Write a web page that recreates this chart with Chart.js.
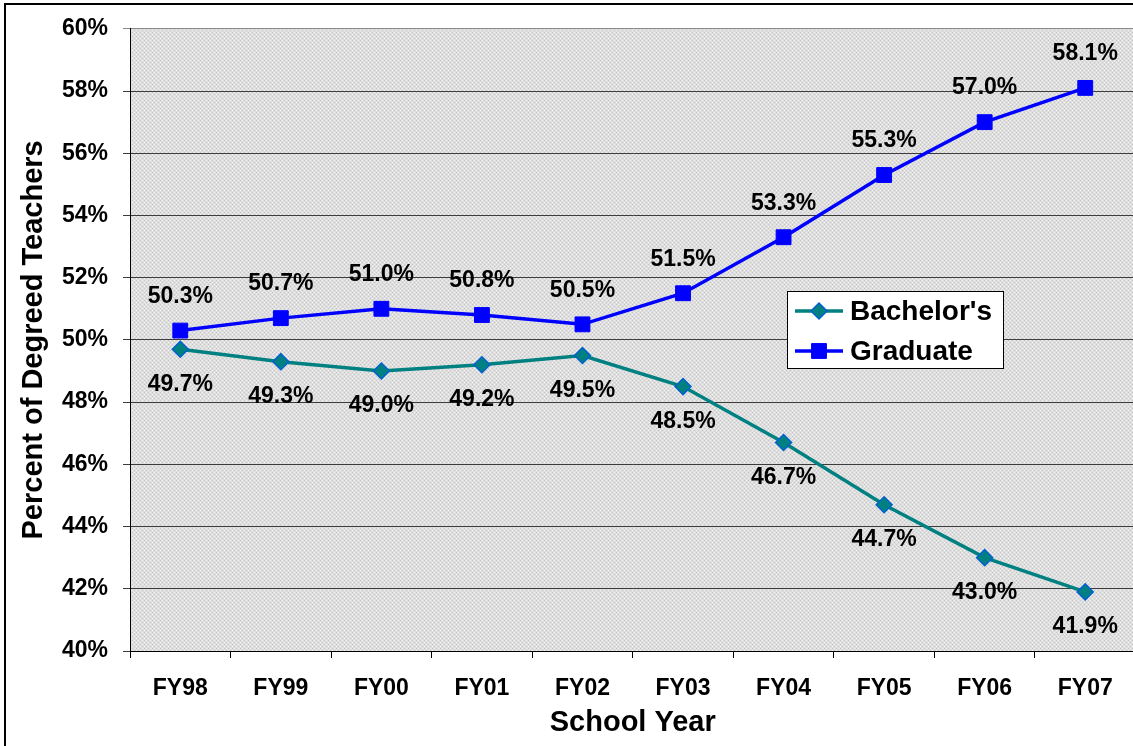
<!DOCTYPE html>
<html>
<head>
<meta charset="utf-8">
<script src="https://cdn.jsdelivr.net/npm/chart.js@4/dist/chart.umd.min.js"></script>
<style>
  html, body { margin: 0; padding: 0; overflow: hidden; background: #fff; }
  canvas { display: block; }
</style>
</head>
<body>
<canvas id="chart" width="1147" height="746"></canvas>
<script>
// School years on the horizontal axis
const schoolYears = ['FY98', 'FY99', 'FY00', 'FY01', 'FY02', 'FY03', 'FY04', 'FY05', 'FY06', 'FY07'];
// Share of degreed teachers holding a bachelor's degree (%)
const bachelorsShare = [49.7, 49.3, 49.0, 49.2, 49.5, 48.5, 46.7, 44.7, 43.0, 41.9];
// Share of degreed teachers holding a graduate degree (%)
const graduateShare = [50.3, 50.7, 51.0, 50.8, 50.5, 51.5, 53.3, 55.3, 57.0, 58.1];
// Vertical axis ticks (%)
const percentTicks = [40, 42, 44, 46, 48, 50, 52, 54, 56, 58, 60];

const FONT = '"Liberation Sans", Arial, sans-serif';
const TEAL = '#008080';
const BLUE = '#0000ff';

// Fine dotted grey fill for the plot area
function makeDotPattern(ctx) {
  const p = document.createElement('canvas');
  p.width = 4; p.height = 4;
  const g = p.getContext('2d');
  g.fillStyle = '#dedede';
  g.fillRect(0, 0, 4, 4);
  g.fillStyle = '#c6c6c6';
  g.fillRect(0, 0, 1, 1); g.fillRect(2, 2, 1, 1);
  g.fillStyle = '#f2f2f2';
  g.fillRect(2, 0, 1, 1); g.fillRect(0, 2, 1, 1);
  return ctx.createPattern(p, 'repeat');
}

const plotBackground = {
  id: 'plotBackground',
  beforeDraw(chart) {
    const { ctx, chartArea: a } = chart;
    ctx.save();
    ctx.fillStyle = makeDotPattern(ctx);
    ctx.fillRect(a.left, a.top, a.right - a.left, a.bottom - a.top);
    ctx.restore();
  },
  afterDraw(chart) {
    // outer frame of the figure
    const { ctx } = chart;
    ctx.save();
    ctx.strokeStyle = '#000';
    ctx.lineWidth = 2;
    ctx.strokeRect(5, 4, 1400, 1000);
    ctx.restore();
  }
};

// Value labels: graduate above the point, bachelor's below
const valueLabels = {
  id: 'valueLabels',
  afterDatasetsDraw(chart) {
    const { ctx } = chart;
    ctx.save();
    ctx.font = 'bold 23px ' + FONT;
    ctx.fillStyle = '#000';
    ctx.textAlign = 'center';
    ctx.textBaseline = 'middle';
    chart.data.datasets.forEach((ds, i) => {
      const meta = chart.getDatasetMeta(i);
      const dy = ds.labelSide === 'above' ? -34 : 35;
      meta.data.forEach((pt, j) => {
        ctx.fillText(ds.data[j].toFixed(1) + '%', pt.x, pt.y + dy);
      });
    });
    ctx.restore();
  }
};

// Boxed legend inside the plot area
const boxedLegend = {
  id: 'boxedLegend',
  afterDraw(chart) {
    const { ctx } = chart;
    const box = { x: 787, y: 291, w: 216, h: 77 };
    ctx.save();
    ctx.fillStyle = '#fff';
    ctx.fillRect(box.x, box.y, box.w, box.h);
    ctx.strokeStyle = '#000';
    ctx.lineWidth = 1;
    ctx.strokeRect(box.x + 0.5, box.y + 0.5, box.w, box.h);
    const rows = [
      { ds: chart.data.datasets[0], y: 311 },
      { ds: chart.data.datasets[1], y: 351 }
    ];
    rows.forEach(r => {
      ctx.strokeStyle = r.ds.borderColor;
      ctx.lineWidth = r.ds.borderWidth;
      ctx.beginPath();
      ctx.moveTo(795, r.y); ctx.lineTo(843, r.y);
      ctx.stroke();
      ctx.fillStyle = r.ds.pointBackgroundColor;
      ctx.strokeStyle = r.ds.pointBorderColor;
      ctx.lineWidth = r.ds.pointBorderWidth;
      Chart.helpers.drawPoint(ctx, {
        pointStyle: r.ds.pointStyle,
        radius: r.ds.pointRadius,
        borderWidth: r.ds.pointBorderWidth,
        rotation: 0
      }, 819, r.y);
      ctx.fillStyle = '#000';
      ctx.font = 'bold 28px ' + FONT;
      ctx.textAlign = 'left';
      ctx.textBaseline = 'middle';
      ctx.fillText(r.ds.label, 850, r.y + 1);
    });
    ctx.restore();
  }
};

new Chart(document.getElementById('chart'), {
  type: 'line',
  data: {
    labels: schoolYears,
    datasets: [
      {
        label: "Bachelor's",
        data: bachelorsShare,
        labelSide: 'below',
        borderColor: TEAL,
        backgroundColor: TEAL,
        borderWidth: 3.5,
        tension: 0,
        pointStyle: 'rectRot',
        pointRadius: 8,
        pointBackgroundColor: TEAL,
        pointBorderColor: '#0060d0',
        pointBorderWidth: 1.5
      },
      {
        label: 'Graduate',
        data: graduateShare,
        labelSide: 'above',
        borderColor: BLUE,
        backgroundColor: BLUE,
        borderWidth: 3.5,
        tension: 0,
        pointStyle: 'rect',
        pointRadius: 10.5,
        pointBackgroundColor: BLUE,
        pointBorderColor: BLUE,
        pointBorderWidth: 1
      }
    ]
  },
  options: {
    responsive: false,
    animation: false,
    devicePixelRatio: 1,
    layout: { padding: { left: 6, top: 25, right: 4, bottom: 0 } },
    plugins: {
      legend: { display: false },
      tooltip: { enabled: false }
    },
    scales: {
      x: {
        offset: true,
        grid: {
          offset: true,
          drawOnChartArea: false,
          drawTicks: true,
          tickLength: 7,
          color: '#000'
        },
        border: { color: '#000', width: 1 },
        ticks: {
          color: '#000',
          padding: 17,
          maxRotation: 0,
          font: { family: FONT, size: 23, weight: 'bold' }
        },
        title: {
          display: true,
          text: 'School Year',
          color: '#000',
          padding: { top: 0, bottom: 9 },
          font: { family: FONT, size: 29, weight: 'bold', lineHeight: 1 }
        },
        afterFit(scale) { scale.height = 95; }
      },
      y: {
        min: 40,
        max: 60,
        afterBuildTicks(scale) { scale.ticks = percentTicks.map(v => ({ value: v })); },
        grid: {
          drawTicks: true,
          tickLength: 7,
          lineWidth: 1,
          color: c => (c.tick && c.tick.value === 60) ? '#8a8a8a' : '#3c3c3c'
        },
        border: { color: '#000', width: 1 },
        ticks: {
          color: '#000',
          padding: 15,
          font: { family: FONT, size: 23, weight: 'bold' },
          callback: v => v + '%'
        },
        title: {
          display: true,
          text: 'Percent of Degreed Teachers',
          color: '#000',
          padding: { top: 13, bottom: 0 },
          font: { family: FONT, size: 29, weight: 'bold', lineHeight: 1 }
        },
        afterFit(scale) { scale.width = 124; }
      }
    }
  },
  plugins: [plotBackground, valueLabels, boxedLegend]
});
</script>
</body>
</html>
